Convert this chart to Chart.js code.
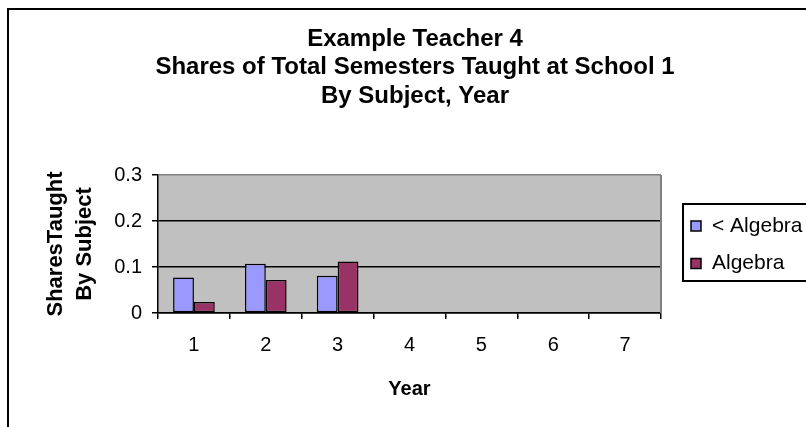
<!DOCTYPE html>
<html>
<head>
<meta charset="utf-8">
<script src="https://cdn.jsdelivr.net/npm/chart.js@4.4.1/dist/chart.umd.min.js"></script>
<style>
html, body { margin: 0; padding: 0; background: #fff; }
#wrap { width: 806px; height: 427px; }
</style>
</head>
<body>
<div id="wrap"><canvas id="grafico-barras"></canvas></div>
<script>
// dados do grafico
const anos = ['1', '2', '3', '4', '5', '6', '7'];
const menosAlgebra = [0.077, 0.107, 0.081, null, null, null, null];
const algebra = [0.024, 0.072, 0.112, null, null, null, null];
const ticksY = [0, 0.1, 0.2, 0.3];
const nomesSeries = ['< Algebra', 'Algebra'];
const coresSeries = ['#9999FF', '#993366'];
const tituloLinhas = ['Example Teacher 4', 'Shares of Total Semesters Taught at School 1', 'By Subject, Year'];
const tituloY = ['SharesTaught', 'By Subject'];
const tituloX = 'Year';

const fonte = "'Liberation Sans', Arial, sans-serif";

// fundo cinza, moldura, titulo e legenda desenhados a mao
const molduraPlugin = {
    id: 'moldura',
    beforeDraw(chart) {
        const ctx = chart.ctx;
        const a = chart.chartArea;
        ctx.save();
        ctx.fillStyle = '#fff';
        ctx.fillRect(0, 0, chart.width, chart.height);
        ctx.fillStyle = '#C0C0C0';
        ctx.fillRect(a.left, a.top, a.right - a.left, a.bottom - a.top);
        ctx.restore();
    },
    afterDraw(chart) {
        const ctx = chart.ctx;
        const a = chart.chartArea;
        ctx.save();
        // borda direita cinza da area do grafico
        ctx.strokeStyle = '#808080';
        ctx.lineWidth = 2;
        ctx.beginPath();
        ctx.moveTo(a.right, a.top);
        ctx.lineTo(a.right, a.bottom);
        ctx.stroke();

        // moldura externa
        ctx.strokeStyle = '#000';
        ctx.lineWidth = 2;
        ctx.strokeRect(8, 9, 900, 600);

        // titulo
        ctx.fillStyle = '#000';
        ctx.font = 'bold 24px ' + fonte;
        ctx.textAlign = 'center';
        ctx.textBaseline = 'middle';
        for (let i = 0; i < tituloLinhas.length; i++) {
            ctx.fillText(tituloLinhas[i], 415, 39 + i * 28.5);
        }

        // legenda
        ctx.lineWidth = 2;
        ctx.strokeRect(683, 204, 200, 77);
        ctx.font = '21px ' + fonte;
        ctx.textAlign = 'left';
        for (let i = 0; i < nomesSeries.length; i++) {
            const y = 226 + i * 37.5;
            ctx.fillStyle = coresSeries[i];
            ctx.fillRect(691, y - 5, 10, 10);
            ctx.lineWidth = 1.5;
            ctx.strokeRect(691, y - 5, 10, 10);
            ctx.fillStyle = '#000';
            ctx.fillText(nomesSeries[i], 712, y);
        }
        ctx.restore();
    }
};

const ctx = document.getElementById('grafico-barras');
new Chart(ctx, {
    type: 'bar',
    data: {
        labels: anos,
        datasets: [{
            label: nomesSeries[0],
            data: menosAlgebra,
            backgroundColor: coresSeries[0],
            borderColor: '#000',
            borderWidth: 1.5,
            borderSkipped: false
        }, {
            label: nomesSeries[1],
            data: algebra,
            backgroundColor: coresSeries[1],
            borderColor: '#000',
            borderWidth: 1.5,
            borderSkipped: false
        }]
    },
    options: {
        responsive: true,
        maintainAspectRatio: false,
        animation: false,
        layout: {
            padding: { top: 175, right: 145, bottom: 0, left: 0 }
        },
        datasets: {
            bar: { categoryPercentage: 0.58, barPercentage: 1 }
        },
        plugins: {
            legend: { display: false },
            title: { display: false },
            tooltip: { enabled: false }
        },
        scales: {
            x: {
                grid: {
                    offset: true,
                    drawOnChartArea: false,
                    color: '#000',
                    tickLength: 6,
                    lineWidth: 1.5
                },
                border: { color: '#000', width: 1.5 },
                ticks: {
                    color: '#000',
                    padding: 14,
                    font: { family: fonte, size: 20 }
                },
                title: {
                    display: true,
                    text: tituloX,
                    color: '#000',
                    font: { family: fonte, size: 20, weight: 'bold' },
                    padding: { top: 0, bottom: 26 }
                },
                afterFit(scale) { scale.height = 114; }
            },
            y: {
                min: 0,
                max: 0.3,
                afterBuildTicks(scale) {
                    scale.ticks = ticksY.map(v => ({ value: v }));
                },
                grid: {
                    color: c => (c.tick && c.tick.value === 0.3) ? '#808080' : '#000',
                    tickColor: '#000',
                    tickLength: 6,
                    lineWidth: 1.5
                },
                border: { color: '#000', width: 1.5 },
                ticks: {
                    color: '#000',
                    padding: 10,
                    font: { family: fonte, size: 20 },
                    callback: v => String(Math.round(v * 10) / 10)
                },
                title: {
                    display: true,
                    text: tituloY,
                    color: '#000',
                    font: { family: fonte, size: 22, weight: 'bold', lineHeight: 1.32 },
                    padding: { top: 41, bottom: 0 }
                },
                afterFit(scale) { scale.width = 158; }
            }
        }
    },
    plugins: [molduraPlugin]
});
</script>
</body>
</html>
